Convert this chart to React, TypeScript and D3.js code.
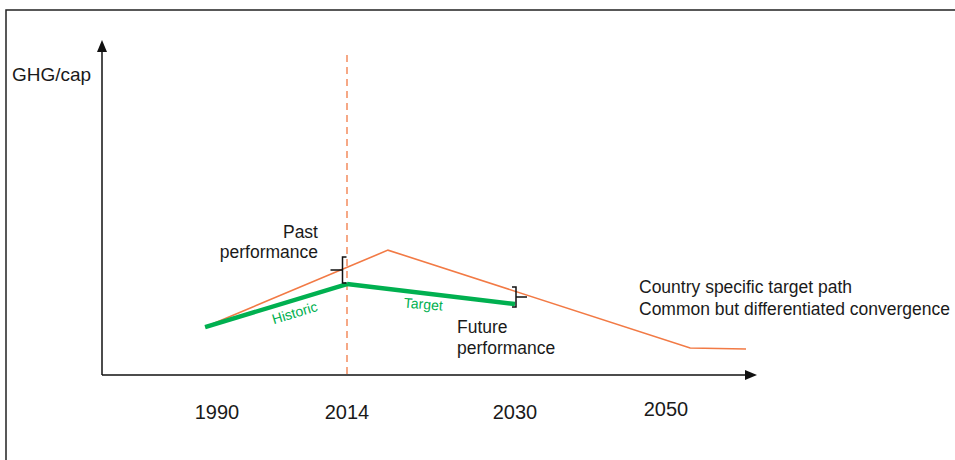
import React from "react";
import * as d3 from "d3";

const tickYears = [1990, 2014, 2030, 2050];
const tickLabels = ["1990", "2014", "2030", "2050"];
const tickPixels = [217, 347, 515, 666];

const historicYears = [1987.8, 2014];
const historicValues = [1.44, 2.73];

const targetYears = [2014, 2030];
const targetValues = [2.73, 2.13];

const pathYears = [1987.8, 2017.9, 2053.2, 2060.6];
const pathValues = [1.44, 3.75, 0.81, 0.78];

const ORANGE = "#f27a45";
const GREEN = "#00b050";
const FONT = "'Liberation Sans', Arial, sans-serif";
const TEXT = "#1a1a1a";

export default function App() {
  const W = 955;
  const H = 460;
  const x = d3.scaleLinear().domain(tickYears).range(tickPixels);
  const y = d3.scaleLinear().domain([0, 10]).range([375, 42]);

  const line = d3
    .line<[number, number]>()
    .x((d) => x(d[0]))
    .y((d) => y(d[1]));

  const hist = historicYears.map((yr, i) => [yr, historicValues[i]] as [number, number]);
  const targ = targetYears.map((yr, i) => [yr, targetValues[i]] as [number, number]);
  const path = pathYears.map((yr, i) => [yr, pathValues[i]] as [number, number]);

  const x0 = 102;
  const yAxis = 375;
  const xEnd = 757;
  const yTop = 40;

  const pathAt = (yr: number) => {
    for (let i = 0; i < pathYears.length - 1; i++) {
      if (yr >= pathYears[i] && yr <= pathYears[i + 1]) {
        const t = (yr - pathYears[i]) / (pathYears[i + 1] - pathYears[i]);
        return pathValues[i] + t * (pathValues[i + 1] - pathValues[i]);
      }
    }
    return pathValues[pathValues.length - 1];
  };

  const pbX = x(2014) - 4.5;
  const pbTop = y(pathAt(2014)) - 3;
  const pbBot = y(historicValues[1]) - 1;
  const pbMid = (pbTop + pbBot) / 2;
  const fbX = x(2030) + 1;
  const fbBot = y(targetValues[1]) + 3;
  const fbTop = fbBot - 20;
  const fbMid = (fbTop + fbBot) / 2;

  const histMid = [(x(hist[0][0]) + x(hist[1][0])) / 2, (y(hist[0][1]) + y(hist[1][1])) / 2];
  const histAngle = (Math.atan2(y(hist[1][1]) - y(hist[0][1]), x(hist[1][0]) - x(hist[0][0])) * 180) / Math.PI;
  const targAngle = (Math.atan2(y(targ[1][1]) - y(targ[0][1]), x(targ[1][0]) - x(targ[0][0])) * 180) / Math.PI;

  return (
    <svg
      width={W}
      height={H}
      style={{ position: "absolute", left: 0, top: 0, background: "#fff" }}
      fontFamily={FONT}
    >
      <rect x={6} y={10} width={W + 10} height={H + 10} fill="none" stroke="#222" strokeWidth={1.5} />

      <line x1={x0} y1={yAxis} x2={x0} y2={yTop + 10} stroke="#111" strokeWidth={1.5} />
      <polygon points={`${x0},${yTop} ${x0 - 5},${yTop + 12} ${x0 + 5},${yTop + 12}`} fill="#111" />
      <line x1={x0} y1={yAxis} x2={xEnd - 10} y2={yAxis} stroke="#111" strokeWidth={1.5} />
      <polygon points={`${xEnd},${yAxis} ${xEnd - 12},${yAxis - 5} ${xEnd - 12},${yAxis + 5}`} fill="#111" />

      <line x1={x(2014)} y1={55} x2={x(2014)} y2={yAxis} stroke={ORANGE} strokeWidth={1.3} strokeDasharray="7,5" />

      <path d={line(path) || ""} fill="none" stroke={ORANGE} strokeWidth={1.6} />

      <path d={line(hist) || ""} fill="none" stroke={GREEN} strokeWidth={4.5} strokeLinecap="butt" />
      <path d={line(targ) || ""} fill="none" stroke={GREEN} strokeWidth={4.5} strokeLinecap="butt" />

      <path
        d={`M${pbX + 4},${pbTop} L${pbX},${pbTop} L${pbX},${pbBot} L${pbX + 4},${pbBot} M${pbX},${pbMid} L${pbX - 12},${pbMid}`}
        fill="none"
        stroke="#111"
        strokeWidth={1.5}
      />
      <path
        d={`M${fbX - 4},${fbTop} L${fbX},${fbTop} L${fbX},${fbBot} L${fbX - 4},${fbBot} M${fbX},${fbMid} L${fbX + 11},${fbMid}`}
        fill="none"
        stroke="#111"
        strokeWidth={1.5}
      />

      <text x={12} y={81} fontSize={19} fill={TEXT}>GHG/cap</text>
      <text x={318} y={238} fontSize={17.5} fill={TEXT} textAnchor="end">Past</text>
      <text x={318} y={258} fontSize={17.5} fill={TEXT} textAnchor="end">performance</text>
      <text x={457} y={333} fontSize={17.5} fill={TEXT}>Future</text>
      <text x={457} y={354} fontSize={17.5} fill={TEXT}>performance</text>
      <text x={639} y={293} fontSize={17.5} fill={TEXT}>Country specific target path</text>
      <text x={639} y={315} fontSize={17.5} fill={TEXT}>Common but differentiated convergence</text>

      <text
        x={histMid[0] + 20}
        y={histMid[1] + 12}
        fontSize={14}
        fill={GREEN}
        textAnchor="middle"
        transform={`rotate(${histAngle} ${histMid[0] + 20} ${histMid[1] + 12})`}
      >
        Historic
      </text>
      <text
        x={423}
        y={309}
        fontSize={14}
        fill={GREEN}
        textAnchor="middle"
        transform={`rotate(${targAngle * 0.7} 423 309)`}
      >
        Target
      </text>

      {tickYears.map((yr, i) => (
        <text
          key={yr}
          x={x(yr)}
          y={i === 3 ? 416 : 419}
          fontSize={20}
          fill={TEXT}
          textAnchor="middle"
        >
          {tickLabels[i]}
        </text>
      ))}
    </svg>
  );
}
